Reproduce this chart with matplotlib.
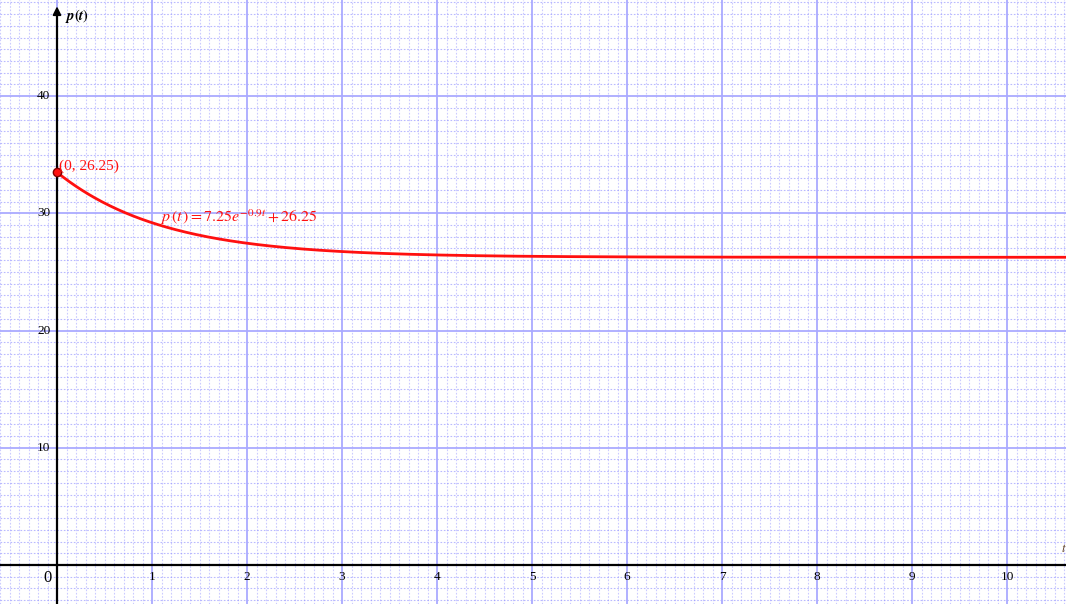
import numpy as np
import matplotlib
matplotlib.use("Agg")
import matplotlib.pyplot as plt

# Model p(t) = A * exp(-k t) + C
amplitude = 7.25
rate = 0.9
asymptote = 26.25

x_ticks = [1, 2, 3, 4, 5, 6, 7, 8, 9, 10]
y_ticks = [10, 20, 30, 40]

x_range = (-0.6, 10.62)
y_range = (-3.33, 48.2)

plt.rcParams["font.family"] = ["Liberation Serif", "DejaVu Serif"]
plt.rcParams["mathtext.fontset"] = "stix"

fig = plt.figure(figsize=(10.66, 6.04), dpi=100)
ax = fig.add_axes([0, 0, 1, 1])
ax.set_xlim(*x_range)
ax.set_ylim(*y_range)
ax.axis("off")

major_c = "#aaaaff"
minor_c = "#8c8cff"

# minor grid: 0.1 in t, 1 in p
for xv in np.arange(-0.6, 10.7, 0.1):
    if abs(xv - round(xv)) < 1e-6:
        continue
    ax.axvline(xv, color=minor_c, alpha=0.45, lw=0.8, ls=(0, (1.5, 1.5)), zorder=0)
for yv in range(-3, 49):
    if yv % 10 == 0:
        continue
    ax.axhline(yv, color=minor_c, alpha=0.6, lw=0.8, ls=(0, (1.5, 1.5)), zorder=0)

# major grid
for xv in range(0, 11):
    ax.axvline(xv, color=major_c, lw=1.3, zorder=0.5)
for yv in range(10, 50, 10):
    ax.axhline(yv, color=major_c, lw=1.3, zorder=0.5)

# axes
ax.axhline(0, color="black", lw=1.6, zorder=2)
ax.plot([0, 0], [y_range[0], 47.0], color="black", lw=1.6, zorder=2)
ax.annotate("", xy=(0, 47.9), xytext=(0, 46.5),
            arrowprops=dict(arrowstyle="-|>", color="black", lw=1.4,
                            mutation_scale=12), zorder=3)

# tick labels
for xv in x_ticks:
    ax.text(xv, -0.55, str(xv), ha="center", va="top", fontsize=9.5, zorder=3)
ax.text(-0.1, -0.4, "0", ha="center", va="top", fontsize=12, zorder=3)
for yv in y_ticks:
    ax.text(-0.07, yv, str(yv), ha="right", va="center", fontsize=9.5, zorder=3)

ax.text(0.08, 46.8, r"$\boldsymbol{p(t)}$", ha="left", va="center",
        fontsize=10.5, zorder=3)
ax.text(10.57, 1.4, r"$t$", ha="left", va="center", fontsize=9,
        color="#604020", zorder=3)

# curve
t = np.linspace(0, 10.62, 800)
p = amplitude * np.exp(-rate * t) + asymptote
ax.plot(t, p, color="#ff1010", lw=2.0, zorder=4)

p0 = amplitude + asymptote
ax.plot([0], [p0], "o", ms=6, mfc="#ff1010", mec="#800000", mew=1.0, zorder=5)

ax.text(0.02, 34.05, "(0, 26.25)", color="#ff1010", ha="left", va="center",
        fontsize=11, zorder=5)
ax.text(1.08, 29.7, r"$p\,(t\,) = 7.25e^{-0.9t} + 26.25$", color="#ff1010",
        ha="left", va="center", fontsize=11.5, zorder=5)

fig.savefig("out.png", dpi=100)
